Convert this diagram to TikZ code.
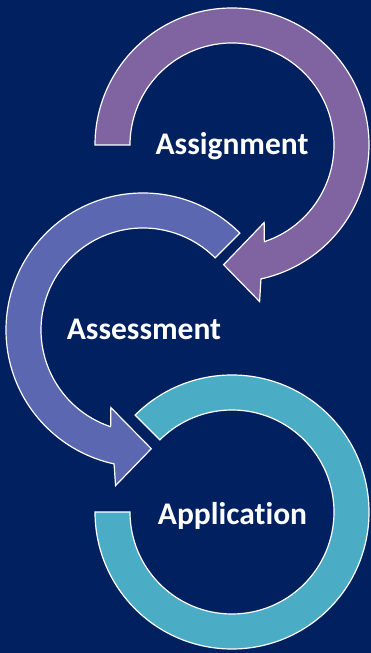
\documentclass[tikz,border=0pt]{standalone}
\usepackage{fontspec}
\setmainfont[Ligatures={NoCommon}]{Carlito}
\usetikzlibrary{calc}
\definecolor{bgnavy}{HTML}{002060}
\definecolor{purpA}{HTML}{8064A2}
\definecolor{blueA}{HTML}{5B67B1}
\definecolor{tealA}{HTML}{4BACC6}
\tikzset{
  ring/.style={draw=white, line width=1.2pt, line join=miter},
  lbl/.style={text=white, font=\bfseries\fontsize{31.5}{36}\selectfont, anchor=base, inner sep=0pt}
}
\begin{document}
\begin{tikzpicture}[x=1pt,y=1pt]
\fill[bgnavy] (0,0) rectangle (371,653);
\useasboundingbox (0,0) rectangle (371,653);
\coordinate (c1) at (232,508);
\coordinate (c2) at (143,323);
\coordinate (c3) at (232,141);
% Assignment (purple)
\begin{scope}[shift={(c1)}]
\filldraw[ring, fill=purpA] (180:137) arc[start angle=180, end angle=-77.8, radius=137]
  -- (-80:159) -- (-94:120) -- (-67.5:84) -- (-71.5:102)
  arc[start angle=-71.5, end angle=180, radius=102] -- cycle;
\end{scope}
% Assessment (blue)
\begin{scope}[shift={(c2)}]
\filldraw[ring, fill=blueA] (45:137) arc[start angle=45, end angle=257.8, radius=137]
  -- (260:158) -- (274:119) -- (247.5:84) -- (251.5:102)
  arc[start angle=251.5, end angle=45, radius=102] -- cycle;
\end{scope}
% Application (teal)
\begin{scope}[shift={(c3)}]
\filldraw[ring, fill=tealA] (135:137) arc[start angle=135, end angle=-180, radius=137]
  -- (180:102) arc[start angle=-180, end angle=135, radius=102] -- cycle;
\end{scope}
\node[lbl] (t1) at (232,498) {Assignment};
\node[lbl] (t2) at (144,313) {Assessment};
\node[lbl] (t3) at (232.5,128) {Application};
\end{tikzpicture}
\end{document}
